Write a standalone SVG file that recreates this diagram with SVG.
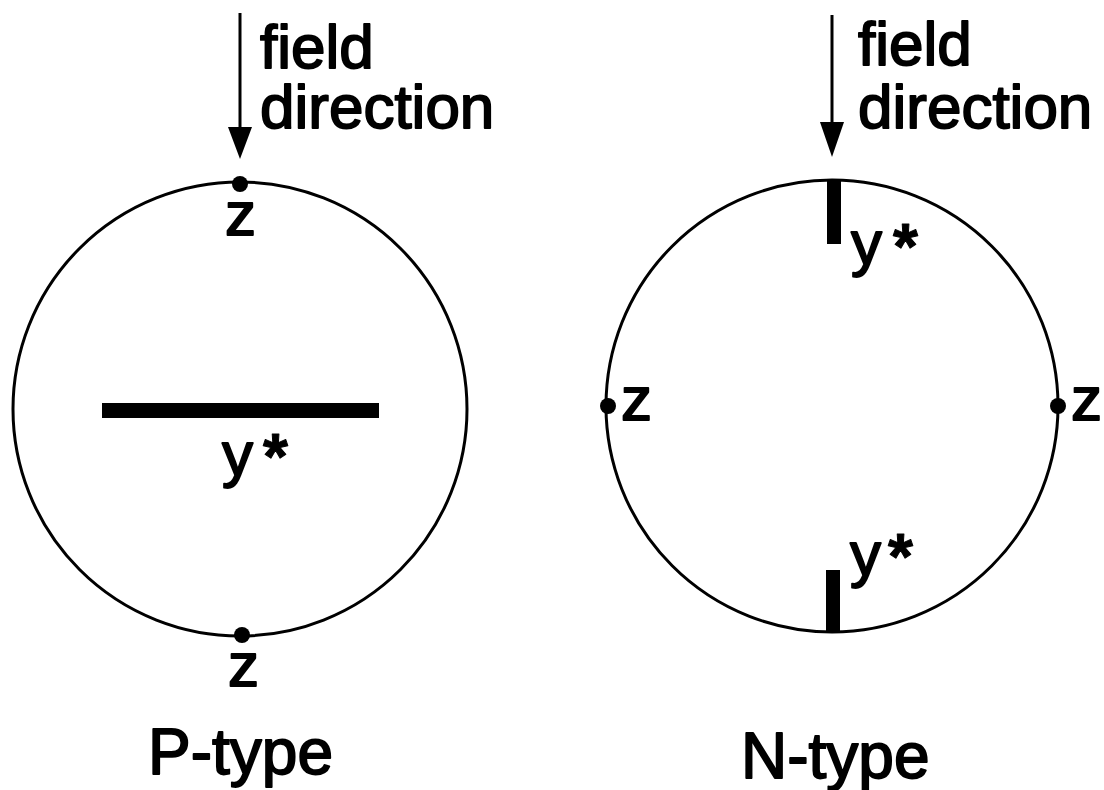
<svg xmlns="http://www.w3.org/2000/svg" width="1104" height="790" viewBox="0 0 1104 790">
<style>
text{font-family:"Liberation Sans",Arial,sans-serif;font-size:62px;fill:#000;stroke:#000;stroke-width:1.8;stroke-linejoin:round}
.big{font-size:64px}
.ast{font-size:64px;font-weight:bold;stroke-width:1}
.ring{fill:none;stroke:#000;stroke-width:3}
.arrow{stroke:#000;stroke-width:3;fill:none}
.dot{fill:#000}
.bar{fill:#000}
</style>
<rect width="1104" height="790" fill="#fff"/>
<g id="connectors">
<line class="arrow" x1="240" y1="13" x2="240" y2="127"/>
<path d="M228,127 L252,127 L240,159 Z" fill="#000"/>
<line class="arrow" x1="832" y1="15" x2="832" y2="122"/>
<path d="M820,122 L844,122 L832,157 Z" fill="#000"/>
</g>
<g id="p-type">
<text x="260" y="68">field</text>
<text x="260" y="128">direction</text>
<circle class="ring" cx="240" cy="409" r="227"/>
<circle class="dot" cx="240" cy="184" r="8"/>
<circle class="dot" cx="242" cy="635" r="8"/>
<rect class="bar" x="102" y="403" width="277" height="15"/>
<text x="225" y="235">z</text>
<text x="222" y="475">y</text>
<text class="ast" x="263" y="479">*</text>
<text x="228" y="686">z</text>
<text class="big" x="148" y="774">P-type</text>
</g>
<g id="n-type">
<text x="858" y="65">field</text>
<text x="858" y="128">direction</text>
<circle class="ring" cx="832" cy="406" r="226"/>
<rect class="bar" x="827" y="180" width="14" height="64"/>
<rect class="bar" x="826" y="570" width="14" height="62"/>
<circle class="dot" cx="608" cy="406" r="8"/>
<circle class="dot" cx="1058" cy="406" r="8"/>
<text x="621" y="420">z</text>
<text x="1071" y="420">z</text>
<text x="851" y="264">y</text>
<text class="ast" x="893" y="269">*</text>
<text x="850" y="575">y</text>
<text class="ast" x="888" y="579">*</text>
<text class="big" x="741" y="778">N-type</text>
</g>
</svg>
